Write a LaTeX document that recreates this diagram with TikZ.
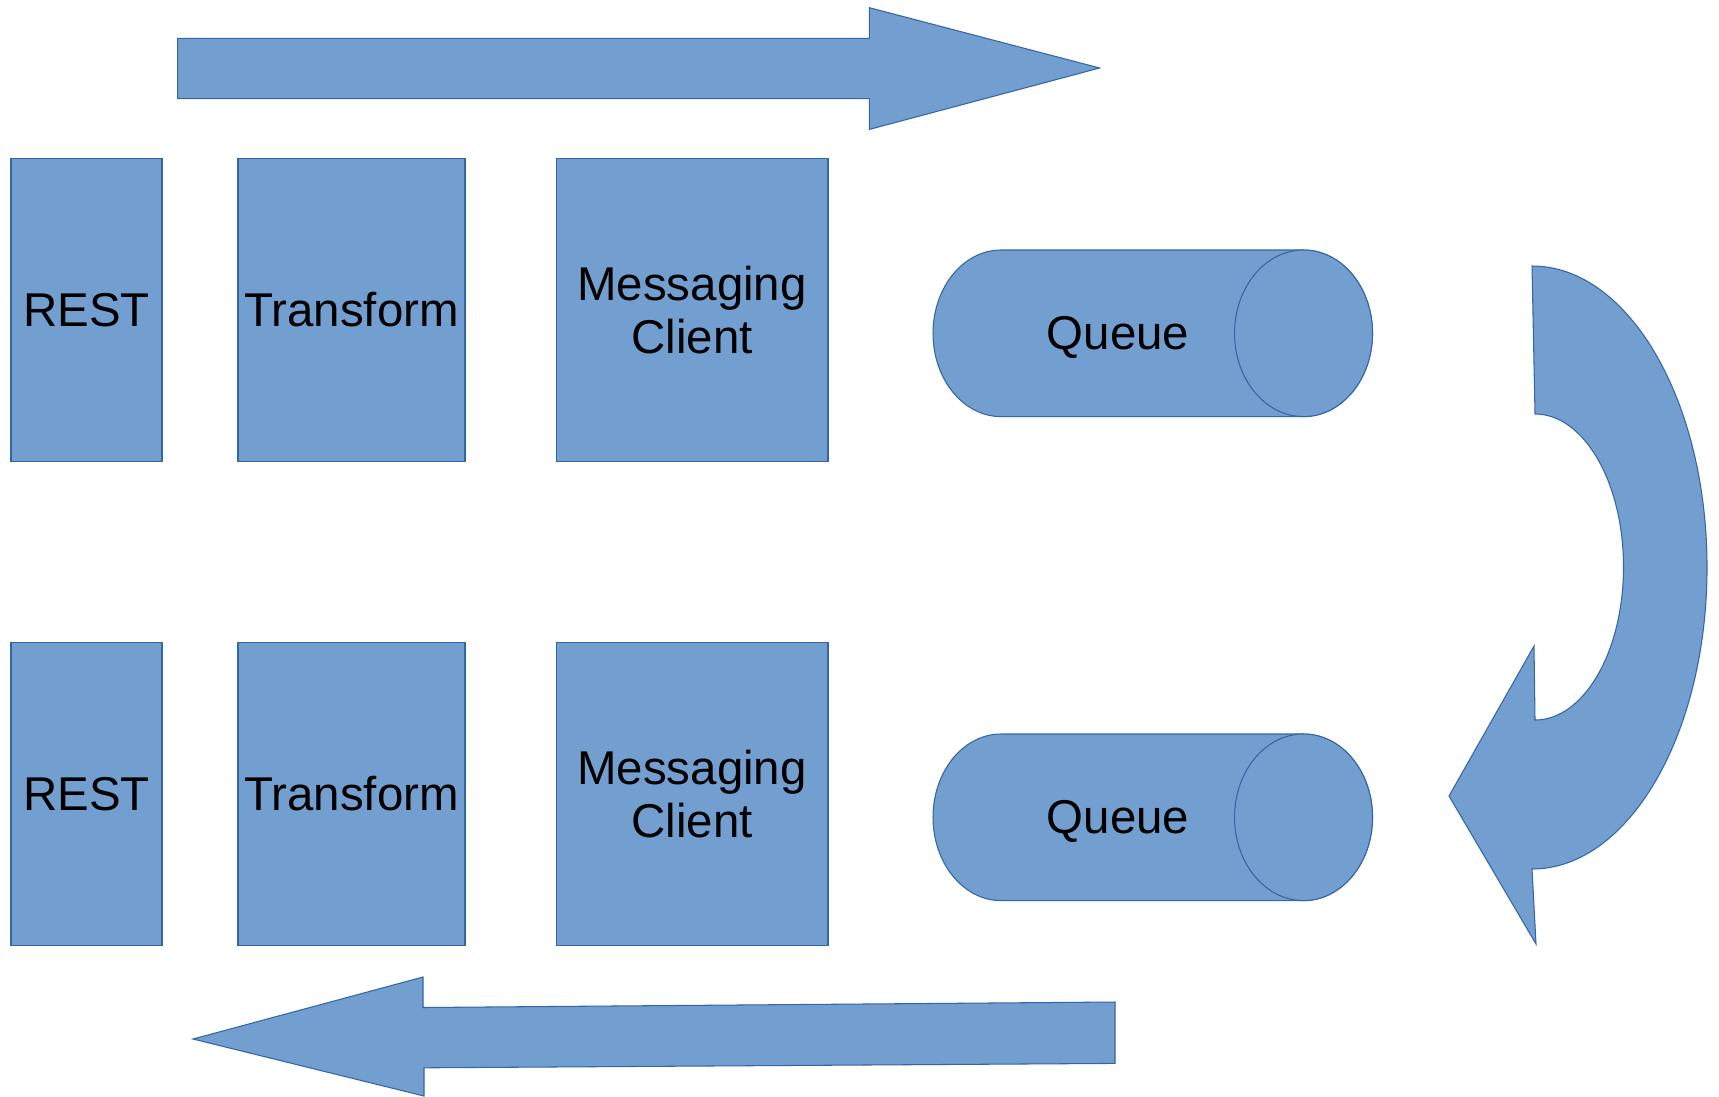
\documentclass[tikz,border=0pt]{standalone}
\usepackage{fontspec}
\setmainfont{Liberation Sans}
\usepackage{xcolor}
\definecolor{boxfill}{HTML}{729FCF}
\definecolor{boxline}{HTML}{3465A4}
\tikzset{
    block/.style={draw=boxline, fill=boxfill, line width=0.6pt, inner sep=0pt,
        align=center, font=\fontsize{27}{30.6}\selectfont},
    restbox/.style={block, minimum width=3.02cm, minimum height=6.05cm},
    transbox/.style={block, minimum width=4.54cm, minimum height=6.05cm},
    clientbox/.style={block, minimum width=5.44cm, minimum height=6.05cm},
    queuetext/.style={inner sep=0pt, font=\fontsize{27}{30.6}\selectfont},
    flow/.style={draw=boxline, fill=boxfill, line width=0.6pt}
}
\begin{document}
\begin{tikzpicture}[x=0.02cm, y=-0.02cm]
        \useasboundingbox (0, 0) rectangle (1719, 1096);

        \draw[flow] (177.6, 38.4) -- (869.4, 38.4) -- (869.4, 7.7) -- (1099.6, 68)
            -- (869.4, 129.4) -- (869.4, 98.7) -- (177.6, 98.7) -- cycle;

        \node[restbox] (rest1) at (86.5, 310) {REST};
        \node[transbox] (trans1) at (351.5, 310) {Transform};
        \node[clientbox] (client1) at (692, 310) {Messaging\\Client};

        \draw[flow] (1001, 250) -- (1303.5, 250)
            arc[start angle=-90, end angle=90, x radius=69, y radius=83.3]
            -- (1001, 416.6) arc[start angle=90, end angle=270, x radius=68, y radius=83.3] -- cycle;
        \draw[flow] (1303.5, 333.3) ellipse[x radius=69, y radius=83.3];
        \node[queuetext] (queue1) at (1118, 337.7) {Queue};

        \node[restbox] (rest2) at (86.5, 794) {REST};
        \node[transbox] (trans2) at (351.5, 794) {Transform};
        \node[clientbox] (client2) at (692, 794) {Messaging\\Client};

        \draw[flow] (1001, 734) -- (1303.5, 734)
            arc[start angle=-90, end angle=90, x radius=69, y radius=83.3]
            -- (1001, 900.6) arc[start angle=90, end angle=270, x radius=68, y radius=83.3] -- cycle;
        \draw[flow] (1303.5, 817.3) ellipse[x radius=69, y radius=83.3];
        \node[queuetext] (queue2) at (1118, 821.7) {Queue};

        \draw[flow] (1532, 266) arc[start angle=-90, end angle=90, x radius=175, y radius=301.5]
            -- (1536, 944) -- (1449, 796) -- (1534, 646) -- (1535, 720)
            arc[start angle=90, end angle=-90, x radius=88.5, y radius=153] -- cycle;

        \draw[flow] (1115, 1002) -- (423, 1007.5) -- (423, 977) -- (193, 1039)
            -- (424, 1096) -- (424, 1067.8) -- (1115, 1063.4) -- cycle;
\end{tikzpicture}
\end{document}
